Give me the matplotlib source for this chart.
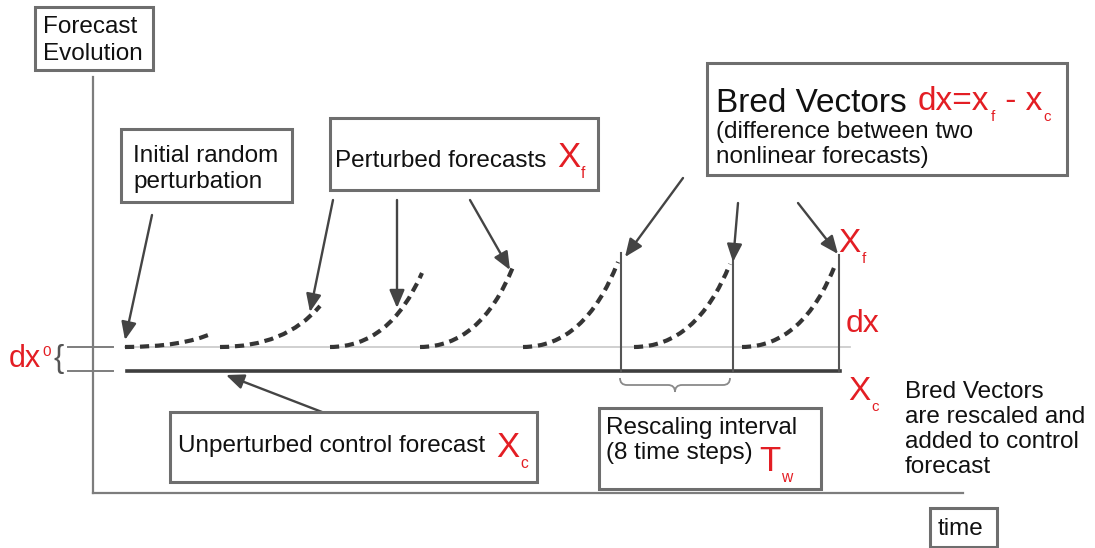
import matplotlib
matplotlib.use("Agg")
import matplotlib.pyplot as plt
from matplotlib.path import Path
from matplotlib.patches import PathPatch, Rectangle

plt.rcParams['font.family'] = ['Liberation Sans', 'DejaVu Sans']

# ---------------------------------------------------------------- diagram data (pixel-like coordinates, y grows downward)
control_y = 371          # unperturbed control forecast
perturbed_y = 347        # perturbed start level (control + dx0)
control_x = [127, 840]
perturbed_x = [125, 850]

cycle_start = [125, 220, 330, 420, 523, 634, 742]
cycle_end = [213, 320, 422, 513, 618, 730, 836]
cycle_growth = [14, 41, 74, 80, 85, 83, 84]

bred_x = [621, 733, 839]
bred_top = [253, 260, 255]

RED = '#e31e24'
BOX = '#6e6e6e'
AXC = '#7d7d7d'

fig = plt.figure(figsize=(10.95, 5.48), dpi=100)
ax = fig.add_axes([0, 0, 1, 1])
ax.set_xlim(0, 1095)
ax.set_ylim(548, 0)
ax.axis('off')
renderer = fig.canvas.get_renderer()


def box(x0, y0, x1, y1):
    ax.add_patch(Rectangle((x0, y0), x1 - x0, y1 - y0, facecolor='white',
                           edgecolor=BOX, lw=2.2, zorder=3))


def lines(x, y, txt, size=17.5, step=26, color='#111111'):
    for i, s in enumerate(txt):
        ax.text(x, y + i * step, s, fontsize=size, color=color,
                va='baseline', ha='left', zorder=4)


def rich(x, y, parts, size, color=RED):
    # parts: (text, kind) with kind '', 'sub' or 'sup'
    for s, kind in parts:
        fs, dy = size, 0
        if kind == 'sub':
            fs, dy = size * 0.45, size * 0.45
        elif kind == 'sup':
            fs, dy = size * 0.5, -size * 0.5
        t = ax.text(x, y + dy, s, fontsize=fs, color=color,
                    va='baseline', ha='left', zorder=4)
        x = t.get_window_extent(renderer).x1 + 1


def arrow(tail, head):
    ax.annotate('', xy=head, xytext=tail, zorder=2,
                arrowprops=dict(arrowstyle='-|>,head_length=0.9,head_width=0.38',
                                mutation_scale=12, color='#444444', lw=1.7,
                                shrinkA=0, shrinkB=0))


# ---------------------------------------------------------------- axes
ax.plot([93, 93], [77, 493], color=AXC, lw=1.6)
ax.plot([93, 963], [493, 493], color=AXC, lw=1.6)

# control + perturbed baselines
ax.plot(perturbed_x, [perturbed_y, perturbed_y], color='#cdcdcd', lw=1.3, zorder=1)
ax.plot(control_x, [control_y, control_y], color='#3e3e3e', lw=2.6, zorder=2)

# dx0 marker
ax.plot([68, 113], [perturbed_y, perturbed_y], color=AXC, lw=1.4)
ax.plot([68, 113], [control_y, control_y], color=AXC, lw=1.4)
ax.text(59, 359, '{', fontsize=22, color='#555555', ha='center', va='center')
rich(9, 367, [('dx', ''), ('0', 'sup')], 22)

# perturbed forecast curves
for x0, x1, g in zip(cycle_start, cycle_end, cycle_growth):
    w = x1 - x0
    p = Path([(x0, perturbed_y), (x0 + 0.65 * w, perturbed_y), (x1, perturbed_y - g)],
             [Path.MOVETO, Path.CURVE3, Path.CURVE3])
    ax.add_patch(PathPatch(p, fill=False, edgecolor='#353535', lw=3,
                           ls=(0, (2.2, 1.4)), capstyle='butt', zorder=2))

# bred vectors (vertical)
for bx, bt in zip(bred_x, bred_top):
    ax.plot([bx, bx], [control_y, bt], color='#555555', lw=1.5, zorder=2)

# brace under rescaling interval
b0, b1, by, bh = 620, 730, 378, 14
bm = (b0 + b1) / 2
verts = [(b0, by), (b0, by + bh / 2), (b0 + 7, by + bh / 2), (bm - 7, by + bh / 2),
         (bm, by + bh / 2), (bm, by + bh),
         (bm, by + bh), (bm, by + bh / 2), (bm + 7, by + bh / 2), (b1 - 7, by + bh / 2),
         (b1, by + bh / 2), (b1, by)]
codes = [Path.MOVETO, Path.CURVE3, Path.CURVE3, Path.LINETO, Path.CURVE3, Path.CURVE3,
         Path.MOVETO, Path.CURVE3, Path.CURVE3, Path.LINETO, Path.CURVE3, Path.CURVE3]
ax.add_patch(PathPatch(Path(verts, codes), fill=False, edgecolor='#8a8a8a', lw=1.3))

# arrows
arrow((152, 215), (125, 340))
arrow((333, 200), (310, 312))
arrow((397, 200), (397, 308))
arrow((470, 200), (510, 270))
arrow((683, 178), (625, 257))
arrow((738, 203), (733, 262))
arrow((798, 203), (838, 254))
arrow((322, 412), (226, 375))

# ---------------------------------------------------------------- boxes and labels
box(35, 7, 153, 70)
lines(43, 33, ['Forecast', 'Evolution'], step=27)

box(121, 129, 292, 202)
lines(133, 162, ['Initial random', 'perturbation'])

box(330, 118, 598, 190)
lines(335, 167, ['Perturbed forecasts'])
rich(557, 167, [('X', ''), ('f', 'sub')], 25)

box(707, 63, 1067, 175)
lines(716, 112, ['Bred Vectors'], size=24)
lines(716, 138, ['(difference between two', 'nonlinear forecasts)'], size=17.5, step=25)
rich(918, 110, [('dx=x', ''), ('f', 'sub'), (' - x', ''), ('c', 'sub')], 24)

box(170, 412, 537, 482)
lines(178, 452, ['Unperturbed control forecast'])
rich(496, 457, [('X', ''), ('c', 'sub')], 25)

box(599, 408, 821, 489)
lines(606, 434, ['Rescaling interval', '(8 time steps)'], step=25)
rich(759, 471, [('T', ''), ('w', 'sub')], 25)

box(930, 508, 997, 547)
lines(938, 535, ['time'])

lines(905, 398, ['Bred Vectors', 'are rescaled and', 'added to control', 'forecast'], step=25)

rich(838, 252, [('X', ''), ('f', 'sub')], 24)
rich(846, 332, [('dx', '')], 23)
rich(848, 400, [('X', ''), ('c', 'sub')], 24)

fig.savefig('out.png', dpi=100)
